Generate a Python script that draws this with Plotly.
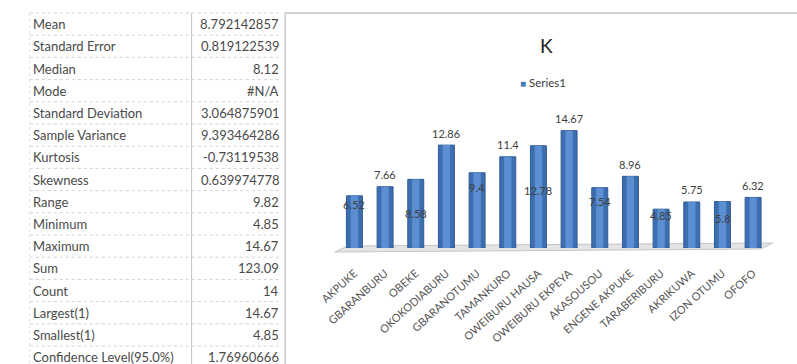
import plotly.graph_objects as go

# ---- data ----
stat_names = ["Mean", "Standard Error", "Median", "Mode", "Standard Deviation",
              "Sample Variance", "Kurtosis", "Skewness", "Range", "Minimum",
              "Maximum", "Sum", "Count", "Largest(1)", "Smallest(1)",
              "Confidence Level(95.0%)"]
stat_values = ["8.792142857", "0.819122539", "8.12", "#N/A", "3.064875901",
               "9.393464286", "-0.73119538", "0.639974778", "9.82", "4.85",
               "14.67", "123.09", "14", "14.67", "4.85", "1.76960666"]

categories = ["AKPUKE", "GBARANBURU", "OBEKE", "OKOKODIABURU", "GBARANOTUMU",
              "TAMANKURO", "OWEIBURU HAUSA", "OWEIBURU EKPEYA", "AKASOUSOU",
              "ENGENE AKPUKE", "TARABERIBURU", "AKRIKUWA", "IZON OTUMU", "OFOFO"]
k_values = [6.52, 7.66, 8.58, 12.86, 9.4, 11.4, 12.78, 14.67, 7.54, 8.96,
            4.85, 5.75, 5.8, 6.32]

# label placement style (pixel shift relative to bar top; positive = above)
label_shift = [-9, 12, -34, 12, -15, 12, -45, 12, -14, 12, -6, 12, -17, 12]

W, H = 797, 364
def px(x): return x / W
def py(y): return 1 - y / H

FONT = "Lato"

fig = go.Figure()
# cylinder-like bar: dark body plus lighter centre highlight
fig.add_trace(go.Bar(
    x=categories, y=k_values, name="Series1", width=0.52,
    marker=dict(color="#3D6FB0", line=dict(color="#2E5A94", width=1)),
    showlegend=False,
))
fig.add_trace(go.Bar(
    x=categories, y=k_values, name="Series1", width=0.24,
    marker=dict(color="#5B8FD2", line=dict(width=0)),
    showlegend=False, hoverinfo="skip",
))

annotations = []
shapes = []

# data labels
for c, v, s in zip(categories, k_values, label_shift):
    annotations.append(dict(x=c, y=v, xref="x", yref="y", text=f"{v:g}",
                            showarrow=False, yshift=s, yanchor="middle",
                            font=dict(family=FONT, size=11, color="#404040")))

# table
row_h = 22.2
top = 13
for i, (n, v) in enumerate(zip(stat_names, stat_values)):
    yc = top + row_h * (i + 0.5)
    annotations.append(dict(x=px(11), y=py(yc), xref="paper", yref="paper",
                            text=n, showarrow=False, xanchor="left",
                            yanchor="middle",
                            font=dict(family=FONT, size=13, color="#4a4a4a")))
    annotations.append(dict(x=px(268), y=py(yc), xref="paper", yref="paper",
                            text=v, showarrow=False, xanchor="right",
                            yanchor="middle",
                            font=dict(family=FONT, size=13, color="#4a4a4a")))
for k in range(len(stat_names) + 1):
    y = top + row_h * k
    shapes.append(dict(type="line", xref="paper", yref="paper",
                       x0=px(10), x1=px(268), y0=py(y), y1=py(y),
                       line=dict(color="#d2d2d2", width=1, dash="dot")))
shapes.append(dict(type="line", xref="paper", yref="paper",
                   x0=px(176), x1=px(176), y0=py(13), y1=0,
                   line=dict(color="#c4c4c4", width=1)))
shapes.append(dict(type="line", xref="paper", yref="paper",
                   x0=px(10), x1=px(10), y0=py(13), y1=0,
                   line=dict(color="#e2e2e2", width=1, dash="dot")))

# chart border
shapes.append(dict(type="rect", xref="paper", yref="paper",
                   x0=px(272), x1=px(800), y0=py(13), y1=py(370),
                   line=dict(color="#c8c8c8", width=1.5), layer="below"))

# 3D floor
floor = [(323, 252), (760, 249), (772, 243), (336, 246)]
path = "M " + " L ".join(f"{px(x)},{py(y)}" for x, y in floor) + " Z"
shapes.append(dict(type="path", xref="paper", yref="paper", path=path,
                   fillcolor="#e4e4e4", line=dict(color="#c4c4c4", width=1),
                   layer="below"))

# title
annotations.append(dict(x=px(540), y=py(45), xref="paper", yref="paper",
                        text="K", showarrow=False, xanchor="center",
                        yanchor="middle",
                        font=dict(family=FONT, size=19, color="#222")))
# legend
annotations.append(dict(x=px(511), y=py(83), xref="paper", yref="paper",
                        text="<span style='color:#4A7EBB;font-size:10px'>■</span> Series1",
                        showarrow=False, xanchor="left", yanchor="middle",
                        font=dict(family=FONT, size=11.5, color="#404040")))

fig.update_layout(
    width=W, height=H, margin=dict(l=0, r=0, t=0, b=0),
    paper_bgcolor="white", plot_bgcolor="rgba(0,0,0,0)",
    barmode="overlay",
    showlegend=False,
    xaxis=dict(domain=[px(327.3), px(767.7)], tickangle=-42,
               showline=False, showgrid=False, ticks="",
               ticklabelstandoff=16,
               tickfont=dict(family=FONT, size=11, color="#555555")),
    yaxis=dict(domain=[py(248), py(120)], range=[0, 16], visible=False),
    annotations=annotations, shapes=shapes,
)

fig.write_html("out.html")
